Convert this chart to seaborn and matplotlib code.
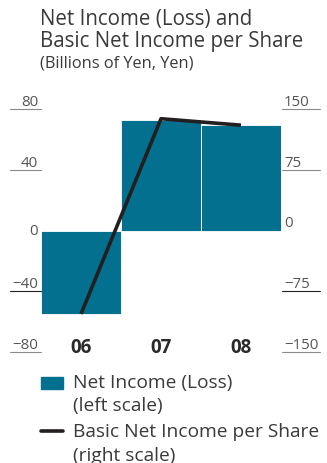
import matplotlib
matplotlib.use("Agg")
import matplotlib.pyplot as plt
import matplotlib.transforms as mtransforms
import pandas as pd
import seaborn as sns

# data
years = ["06", "07", "08"]
net_income = [-55, 72.5, 69.5]          # billions of yen, left scale
eps = [-103, 138, 130]                  # yen, right scale
left_ticks = [80, 40, 0, -40, -80]
right_ticks = [150, 75, 0, -75, -150]

bar_color = "#04708f"
line_color = "#231f20"
text_color = "#3a3a3a"
tick_color = "#555555"

sns.set_theme(style="white")
plt.rcParams["font.family"] = ["Open Sans", "DejaVu Sans"]

df = pd.DataFrame({"year": years, "net_income": net_income, "eps": eps})

fig = plt.figure(figsize=(3.27, 4.64), dpi=100)
ax = fig.add_axes([41 / 327, (464 - 353) / 464, 240 / 327, 243 / 464])

sns.barplot(data=df, x="year", y="net_income", color=bar_color, width=1,
            saturation=1, edgecolor="white", linewidth=0.6, ax=ax)
ax.set_xlim(-0.5, 2.5)
ax.set_ylim(-80, 80)

ax2 = ax.twinx()
sns.lineplot(x=range(len(years)), y=eps, color=line_color, linewidth=2.6,
             ax=ax2, solid_capstyle="butt")
ax2.set_ylim(-150, 150)

for a in (ax, ax2):
    for s in a.spines.values():
        s.set_visible(False)
    a.set_xticks([])
    a.set_yticks([])
    a.set_xlabel("")
    a.set_ylabel("")

# custom ticks: short rules with label sitting above
tl = mtransforms.blended_transform_factory(fig.transFigure, ax.transData)
tr = mtransforms.blended_transform_factory(fig.transFigure, ax2.transData)
for v in left_ticks:
    if v == 0:
        fig.text(38 / 327, 0, "0", transform=tl, ha="right", va="center",
                 fontsize=10.8, color=tick_color)
        continue
    c = "#222222" if v == -40 else "#8a8a8a"
    fig.add_artist(plt.Line2D([10 / 327, 41 / 327], [v, v], transform=tl,
                              color=c, linewidth=0.8))
    fig.text(38 / 327, v, f"{v}".replace("-", "\u2212"), transform=tl,
             ha="right", va="bottom", fontsize=10.8, color=tick_color)
for v in right_ticks:
    if v != 0:
        c = "#222222" if v == -75 else "#8a8a8a"
        fig.add_artist(plt.Line2D([282 / 327, 320 / 327], [v, v], transform=tr,
                                  color=c, linewidth=0.8))
    fig.text(284 / 327, v, f"{v}".replace("-", "\u2212"), transform=tr,
             ha="left", va="bottom", fontsize=10.8, color=tick_color)

# category labels
tx = mtransforms.blended_transform_factory(ax.transData, fig.transFigure)
for i, y in enumerate(years):
    fig.text(i, 1 - 348 / 464, y, transform=tx, ha="center", va="center",
             fontsize=13.5, fontweight="bold", color="#2a2a2a")

# title
fig.text(40 / 327, 1 - 20 / 464, "Net Income (Loss) and", ha="left", va="center",
         fontsize=14.8, color=text_color)
fig.text(40 / 327, 1 - 41 / 464, "Basic Net Income per Share", ha="left",
         va="center", fontsize=14.8, color=text_color)
fig.text(40 / 327, 1 - 63 / 464, "(Billions of Yen, Yen)", ha="left",
         va="center", fontsize=11.8, color=text_color)

# legend
fig.add_artist(plt.Rectangle((41 / 327, 1 - 390 / 464), 22 / 327, 12 / 464,
                             transform=fig.transFigure, color=bar_color))
fig.text(73 / 327, 1 - 383 / 464, "Net Income (Loss)", ha="left", va="center",
         fontsize=13.8, color=text_color)
fig.text(73 / 327, 1 - 406 / 464, "(left scale)", ha="left", va="center",
         fontsize=13.8, color=text_color)
fig.add_artist(plt.Line2D([41 / 327, 63 / 327], [1 - 432 / 464, 1 - 432 / 464],
                          transform=fig.transFigure, color=line_color,
                          linewidth=2.6))
fig.text(73 / 327, 1 - 432 / 464, "Basic Net Income per Share", ha="left",
         va="center", fontsize=13.8, color=text_color)
fig.text(73 / 327, 1 - 456 / 464, "(right scale)", ha="left", va="center",
         fontsize=13.8, color=text_color)

fig.savefig("out.png", dpi=100)
